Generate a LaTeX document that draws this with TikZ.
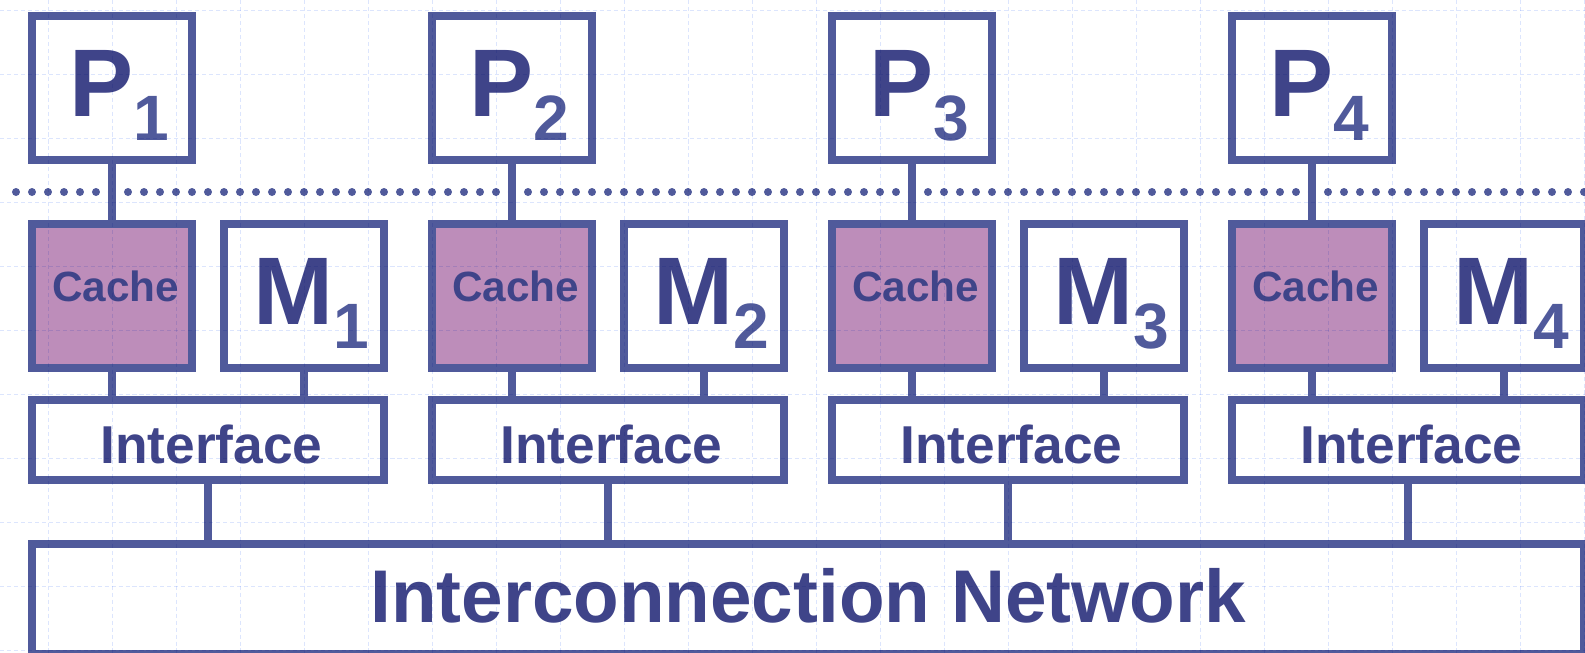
\documentclass[tikz,border=0pt]{standalone}
\usepackage{fontspec}
\setmainfont{Liberation Sans}
\definecolor{ink}{RGB}{63,68,137}
\definecolor{bord}{RGB}{80,90,155}
\definecolor{cfill}{RGB}{189,141,186}
\definecolor{gridc}{RGB}{220,229,253}
\newcommand\lowsub[1]{\raisebox{-0.375cm}{\fontsize{28.5}{29}\selectfont\color{bord}#1}}
\tikzset{gl/.style = {gridc, line width=0.4pt, dash pattern=on 1.8pt off 1.3pt},
    bx/.style  = {draw=bord, line width=3.25pt, inner sep=0pt, text=ink},
    big/.style = {bx, minimum width=2.5cm, minimum height=2.25cm,
                  font=\bfseries\fontsize{42.7}{43}\selectfont, text height=1.281cm, text depth=0.375cm,
                  execute at begin node={\hspace*{0.22cm}}},
    ch/.style  = {bx, fill=cfill, minimum width=2.5cm, minimum height=2.25cm,
                  font=\bfseries\fontsize{18.8}{19}\selectfont, text height=0.42cm, text depth=0.244cm,
                  execute at begin node={\hspace*{0.115cm}}},
    ifc/.style = {bx, minimum width=5.5cm, minimum height=1.25cm,
                  font=\bfseries\fontsize{23.7}{24}\selectfont, text height=0.73cm, text depth=0pt,
                  execute at begin node={\hspace*{0.11cm}}},
    nw/.style  = {bx, minimum width=24.25cm, minimum height=1.71875cm,
                  font=\bfseries\fontsize{33.2}{34}\selectfont, text height=0.844cm, text depth=0.11cm},
    ln/.style  = {bord, line width=3.25pt}}

\begin{document}
\begin{tikzpicture}
    \useasboundingbox (0,0) rectangle (24.766,-10.203);

    % dotted rule between processors and caches
    \coordinate (dl) at (0.25,-3);
    \coordinate (dr) at (24.9,-3);
    \draw[bord, line width=0.125cm, line cap=round, dash pattern=on 0pt off 0.25cm] (dl) -- (dr);

    \node[nw] (net) at (12.625,-9.359) {Interconnection Network};

    \foreach \i in {1,...,4} {
        \pgfmathsetmacro\dx{(\i-1)*6.25}
        \node[big] (p\i) at (\dx+1.75,-1.375) {P\lowsub{\i}};
        \node[ch]  (c\i) at (\dx+1.75,-4.625) {Cache};
        \node[big] (m\i) at (\dx+4.75,-4.625) {M\lowsub{\i}};
        \node[ifc] (f\i) at (\dx+3.25,-6.875) {Interface};
        \draw[ln] (p\i) -- (c\i);
        \draw[ln] (c\i) -- (c\i |- f\i.north);
        \draw[ln] (m\i) -- (m\i |- f\i.north);
        \draw[ln] (f\i) -- (f\i |- net.north);
    }

    % faint grid
    \begin{scope}[blend mode=multiply]
        \foreach \k in {0,...,24} \draw[gl] (0.75+\k,0) -- (0.75+\k,-10.203);
        \foreach \k in {0,...,10} \draw[gl] (0,-0.15625-\k) -- (24.766,-0.15625-\k);
    \end{scope}
\end{tikzpicture}
\end{document}
